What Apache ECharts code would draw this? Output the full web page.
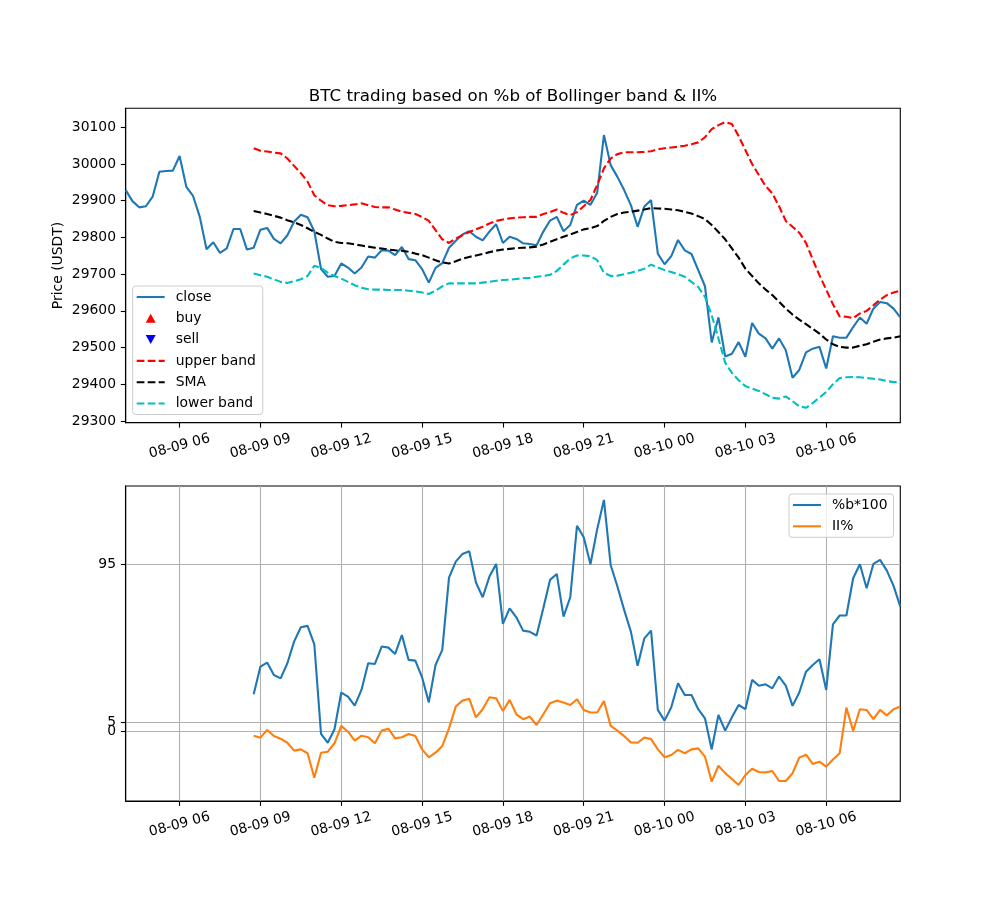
<!DOCTYPE html>
<html><head><meta charset="utf-8">
<script src="https://cdn.jsdelivr.net/npm/echarts@6/dist/echarts.min.js"></script>
<style>html,body{margin:0;padding:0;background:#fff}#c{width:1000px;height:900px}</style>
</head><body><div id="c"></div>
<script>
// ---- data (15-minute bars starting 08-09 04:00) ----
const START_UTC = Date.UTC(2023, 7, 9, 4, 0);
const STEP_MIN = 15;

const closePrice = [
29929,29899,29882,29885,29911,29979,29981,29982,30022,29938,
29913,29856,29768,29787,29758,29770,29823,29823,29767,29772,
29821,29826,29796,29784,29806,29843,29862,29855,29817,29714,
29693,29695,29729,29718,29702,29718,29748,29745,29765,29764,
29752,29774,29741,29738,29714,29677,29717,29730,29772,29791,
29808,29817,29802,29792,29816,29836,29785,29802,29796,29784,
29782,29779,29816,29846,29856,29817,29834,29889,29900,29889,
29922,30079,29997,29965,29929,29888,29829,29884,29902,29756,
29727,29749,29793,29765,29755,29711,29667,29514,29582,29476,
29483,29515,29475,29567,29538,29525,29497,29525,29493,29418,
29439,29487,29497,29502,29443,29531,29527,29527,29556,29582,
29565,29606,29624,29621,29606,29582];

const WARMUP = Array(19).fill(null);

const upperBand = WARMUP.concat([
30043,30036,30034,30031,30029,30015,29995,29975,29952,29915,29900,
29888,29885,29886,29888,29890,29893,29888,29883,29882,29882,
29876,29870,29867,29864,29856,29845,29820,29795,29785,29797,
29806,29815,29822,29829,29838,29845,29849,29852,29854,29855,
29856,29856,29864,29869,29876,29867,29861,29869,29885,29902,
29943,29988,30015,30027,30032,30032,30032,30033,30035,30040,
30043,30045,30047,30050,30054,30059,30073,30095,30106,30114,
30109,30076,30038,30000,29970,29940,29920,29885,29845,29829,
29813,29785,29740,29697,29658,29618,29585,29584,29580,29593,
29600,29615,29631,29643,29650,29655]);

const smaLine = WARMUP.concat([
29872,29868,29864,29859,29854,29847,29841,29834,29825,29815,29807,
29797,29788,29785,29784,29781,29778,29775,29772,29770,29767,
29765,29764,29761,29756,29752,29745,29738,29732,29729,29735,
29742,29747,29751,29755,29760,29764,29767,29769,29771,29772,
29773,29775,29781,29788,29795,29802,29808,29815,29822,29825,
29831,29845,29856,29864,29868,29870,29873,29876,29880,29879,
29878,29876,29874,29870,29865,29858,29850,29834,29815,29795,
29770,29745,29715,29695,29675,29658,29643,29625,29606,29590,
29576,29564,29551,29538,29522,29509,29502,29500,29500,29505,
29509,29516,29522,29525,29527,29531]);

const lowerBand = WARMUP.concat([
29702,29697,29693,29686,29679,29676,29681,29686,29695,29723,29717,
29704,29695,29688,29679,29670,29663,29659,29658,29658,29657,
29657,29657,29655,29653,29650,29646,29655,29667,29675,29675,
29675,29675,29675,29677,29679,29682,29684,29685,29687,29689,
29690,29693,29695,29698,29709,29726,29743,29751,29751,29749,
29738,29704,29695,29696,29700,29704,29709,29715,29726,29718,
29711,29706,29700,29693,29679,29665,29638,29588,29525,29459,
29431,29411,29395,29388,29382,29373,29363,29361,29367,29354,
29340,29336,29349,29364,29379,29400,29417,29419,29420,29419,
29417,29415,29413,29409,29406,29406]);

const pctB100 = WARMUP.concat([
20.9,36.7,39.0,31.9,30.0,38.6,50.9,59.1,59.9,49.4,-1.7,
-6.7,1.0,21.9,19.6,14.4,23.4,38.6,38.2,48.1,47.5,
43.9,54.7,40.5,40.1,30.6,16.3,37.6,46.2,87.4,96.5,
100.9,102.4,84.6,76.2,88.0,95.2,61.0,69.9,64.8,57.2,
56.5,54.4,69.9,86.1,89.5,65.2,76.2,116.9,110.4,95.0,
115.0,131.7,94.6,82.3,69.0,56.6,37.1,52.8,57.2,12.0,
5.9,13.5,27.2,20.5,20.5,12.4,7.2,-10.5,9.1,0.2,
7.8,14.8,12.4,29.1,25.8,26.6,24.3,31.0,25.8,14.3,
21.9,33.8,37.6,40.9,23.4,60.8,65.8,65.8,87.0,95.0,
81.3,95.2,97.5,91.4,82.7,70.9]);

const iiPct = WARMUP.concat([
-2.7,-3.8,0.6,-2.9,-4.4,-6.7,-11.2,-10.5,-12.7,-26.6,-12.4,
-11.8,-7.0,2.9,-0.4,-5.5,-2.7,-3.6,-7.0,0.2,1.3,
-4.2,-3.6,-1.7,-2.9,-10.5,-15.0,-12.4,-8.6,1.5,13.9,
17.3,18.4,7.8,12.4,19.2,18.6,11.4,17.7,9.5,6.7,
8.2,3.4,9.5,15.8,17.3,16.2,14.8,18.1,12.0,10.5,
10.5,17.1,2.9,0.2,-2.9,-6.5,-6.7,-3.8,-4.6,-10.5,
-15.0,-13.7,-10.8,-12.7,-10.5,-9.9,-14.6,-28.9,-19.8,-24.0,
-27.4,-30.8,-25.1,-21.5,-23.4,-23.6,-22.8,-28.5,-28.5,-24.1,
-15.2,-13.5,-18.8,-17.5,-20.3,-16.2,-12.7,13.3,0.0,12.4,
12.0,6.7,12.0,8.9,12.4,13.9]);

const buySignals = [];
const sellSignals = [];

const xTickLabels = ['08-09 06','08-09 09','08-09 12','08-09 15','08-09 18','08-09 21','08-10 00','08-10 03','08-10 06'];
const priceTicks = [29300,29400,29500,29600,29700,29800,29900,30000,30100];
const lowerTicksA = [5,95];
const lowerTicksB = [0];

// time categories
const p2 = n => (n < 10 ? '0' : '') + n;
const times = closePrice.map((_, i) => {
  const d = new Date(START_UTC + i * STEP_MIN * 60000);
  return p2(d.getUTCMonth() + 1) + '-' + p2(d.getUTCDate()) + ' ' + p2(d.getUTCHours()) + ':' + p2(d.getUTCMinutes());
});
const isTick = (idx, val) => val.endsWith(':00') && xTickLabels.indexOf(val.slice(0, 8)) >= 0;

// ---- chart ----
const FONT = 'DejaVu Sans';
const FS = 13.9;
const L = 125.7, W = 774.6;
const DASH = [7.7, 3.3];
const LW = 2.1;
const Y2MIN = -39.9, Y2MAX = 139.6;

// legend icons
const ICON_SOLID = 'path://M0,0h28v2.1h-28z';
const ICON_DASH = 'path://M0,0h7.7v2.1h-7.7zM11,0h7.7v2.1h-7.7zM22,0h6v2.1h-6z';
const ICON_UP = 'path://M5,0L10,9L0,9Z';
const ICON_DOWN = 'path://M0,0L10,0L5,9Z';

function xAxisDef(gridIndex, grid) {
  return {
    type: 'category', gridIndex: gridIndex, data: times, boundaryGap: false,
    axisLine: {show: true, onZero: false, lineStyle: {color: '#000', width: 1.1}},
    axisTick: {show: true, interval: isTick, length: 4.9, lineStyle: {color: '#000', width: 1.1}},
    axisLabel: {interval: isTick, formatter: v => v.slice(0, 8), rotate: 15, align: 'center', verticalAlign: 'middle',
      margin: 23.5, fontSize: FS, color: '#000', fontFamily: FONT},
    splitLine: {show: grid, interval: isTick, lineStyle: {color: '#b0b0b0', width: 1.1}}
  };
}

const legendCommon = {
  orient: 'vertical', itemWidth: 28, itemHeight: 9, itemGap: 7.3,
  borderColor: '#cccccc', borderWidth: 1, borderRadius: 3, backgroundColor: 'rgba(255,255,255,0.8)',
  textStyle: {fontSize: FS, color: '#000', fontFamily: FONT, padding: [0, 0, 0, 6]}
};

const option = {
  animation: false,
  backgroundColor: '#fff',
  textStyle: {fontFamily: FONT},
  title: {
    text: 'BTC trading based on %b of Bollinger band & II%',
    left: 513, top: 88, textAlign: 'center', padding: 0,
    textStyle: {fontSize: 16.7, fontWeight: 'normal', color: '#000', fontFamily: FONT}
  },
  legend: [
    Object.assign({}, legendCommon, {
      left: 132.7, top: 286, padding: [4, 7, 4, 4],
      data: [
        {name: 'close', icon: ICON_SOLID},
        {name: 'buy', icon: ICON_UP},
        {name: 'sell', icon: ICON_DOWN},
        {name: 'upper band', icon: ICON_DASH},
        {name: 'SMA', icon: ICON_DASH},
        {name: 'lower band', icon: ICON_DASH}
      ]
    }),
    Object.assign({}, legendCommon, {
      left: 789, top: 494, padding: [4, 6, 4, 4],
      data: [{name: '%b*100', icon: ICON_SOLID}, {name: 'II%', icon: ICON_SOLID}]
    })
  ],
  grid: [
    {left: L, top: 108.3, width: W, height: 314.4, show: true, borderColor: '#000', borderWidth: 1.1, backgroundColor: 'transparent'},
    {left: L, top: 486, width: W, height: 315, show: true, borderColor: '#000', borderWidth: 1.1, backgroundColor: 'transparent'}
  ],
  xAxis: [xAxisDef(0, false), xAxisDef(1, true)],
  yAxis: [
    {
      type: 'value', gridIndex: 0, min: 29295.4, max: 30151.8,
      name: 'Price (USDT)', nameLocation: 'middle', nameGap: 60, nameMoveOverlap: false,
      nameTextStyle: {fontSize: FS, color: '#000', fontFamily: FONT},
      axisLine: {show: true, lineStyle: {color: '#000', width: 1.1}},
      axisTick: {show: true, customValues: priceTicks, length: 4.9, lineStyle: {color: '#000', width: 1.1}},
      axisLabel: {customValues: priceTicks, formatter: v => String(Math.round(v)), margin: 9.7, fontSize: FS, color: '#000', fontFamily: FONT},
      splitLine: {show: false}
    },
    {
      type: 'value', gridIndex: 1, min: Y2MIN, max: Y2MAX, position: 'left',
      axisLine: {show: true, lineStyle: {color: '#000', width: 1.1}},
      axisTick: {show: true, customValues: lowerTicksA, length: 4.9, lineStyle: {color: '#000', width: 1.1}},
      axisLabel: {customValues: lowerTicksA, formatter: v => String(v), margin: 9.7, fontSize: FS, color: '#000', fontFamily: FONT},
      splitLine: {show: true, lineStyle: {color: '#b0b0b0', width: 1.1}}
    },
    {
      type: 'value', gridIndex: 1, min: Y2MIN, max: Y2MAX, position: 'left', offset: 0,
      axisLine: {show: false},
      axisTick: {show: true, customValues: lowerTicksB, length: 4.9, lineStyle: {color: '#000', width: 1.1}},
      axisLabel: {customValues: lowerTicksB, formatter: v => String(v), margin: 9.7, fontSize: FS, color: '#000', fontFamily: FONT},
      splitLine: {show: true, lineStyle: {color: '#b0b0b0', width: 1.1}}
    }
  ],
  series: [
    {name: 'close', type: 'line', xAxisIndex: 0, yAxisIndex: 0, data: closePrice, symbol: 'none',
      lineStyle: {color: '#1f77b4', width: LW}, itemStyle: {color: '#1f77b4'}, z: 3},
    {name: 'buy', type: 'scatter', xAxisIndex: 0, yAxisIndex: 0, data: buySignals, symbol: ICON_UP, symbolSize: 10,
      itemStyle: {color: '#ff0000', opacity: 1}},
    {name: 'sell', type: 'scatter', xAxisIndex: 0, yAxisIndex: 0, data: sellSignals, symbol: ICON_DOWN, symbolSize: 10,
      itemStyle: {color: '#0000ff', opacity: 1}},
    {name: 'upper band', type: 'line', xAxisIndex: 0, yAxisIndex: 0, data: upperBand, symbol: 'none',
      lineStyle: {color: '#ff0000', width: LW, type: DASH}, itemStyle: {color: '#ff0000'}},
    {name: 'SMA', type: 'line', xAxisIndex: 0, yAxisIndex: 0, data: smaLine, symbol: 'none',
      lineStyle: {color: '#000000', width: LW, type: DASH}, itemStyle: {color: '#000000'}},
    {name: 'lower band', type: 'line', xAxisIndex: 0, yAxisIndex: 0, data: lowerBand, symbol: 'none',
      lineStyle: {color: '#00bfbf', width: LW, type: DASH}, itemStyle: {color: '#00bfbf'}},
    {name: '%b*100', type: 'line', xAxisIndex: 1, yAxisIndex: 1, data: pctB100, symbol: 'none',
      lineStyle: {color: '#1f77b4', width: LW}, itemStyle: {color: '#1f77b4'}},
    {name: 'II%', type: 'line', xAxisIndex: 1, yAxisIndex: 1, data: iiPct, symbol: 'none',
      lineStyle: {color: '#ff7f0e', width: LW}, itemStyle: {color: '#ff7f0e'}}
  ]
};

const chart = echarts.init(document.getElementById('c'), null, {renderer: 'canvas'});
chart.setOption(option);
</script>
</body></html>
